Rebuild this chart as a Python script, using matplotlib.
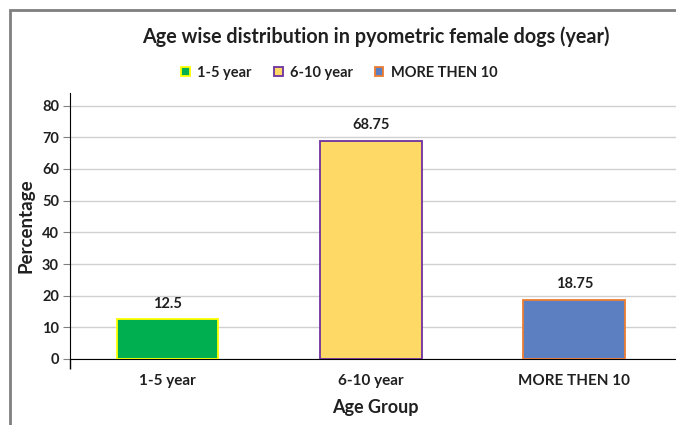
import matplotlib
matplotlib.use('Agg')
import matplotlib.pyplot as plt
from matplotlib.patches import Rectangle

categories = ['1-5 year', '6-10 year', 'MORE THEN 10']
percent = [12.5, 68.75, 18.75]
labels = ['12.5', '68.75', '18.75']
face_colors = ['#00B050', '#FFD966', '#5B7FC1']
edge_colors = ['#FFFF00', '#7030A0', '#ED7D31']
yticks = [0, 10, 20, 30, 40, 50, 60, 70, 80]

plt.rcParams['font.family'] = ['Lato', 'DejaVu Sans']
txt = '#202020'

fig = plt.figure(figsize=(6.76, 4.25), dpi=100)
ax = fig.add_axes([70/676, 66/425, 610/676, 266/425])

x = range(len(categories))
bars = ax.bar(x, percent, width=0.5, color=face_colors,
              edgecolor=edge_colors, linewidth=1.3, zorder=3,
              label=categories)
for b, lab in zip(bars, labels):
    ax.text(b.get_x() + b.get_width()/2, b.get_height() + 2.8, lab,
            ha='center', va='bottom', fontsize=10.5, fontweight='bold',
            color=txt)

ax.set_xlim(-0.48, 2.52)
ax.set_ylim(0, 84)
ax.set_yticks(yticks)
ax.set_xticks(list(x))
ax.set_xticklabels(categories, fontsize=11, fontweight='bold', color=txt)
ax.tick_params(axis='x', length=0, pad=11)
ax.tick_params(axis='y', length=5, color='#808080', labelsize=10.5,
               labelcolor=txt, pad=3)
for t in ax.get_yticklabels():
    t.set_fontweight('bold')
ax.set_xticks([-0.48], minor=True)
ax.tick_params(axis='x', which='minor', length=7, color='black', width=1)
ax.grid(axis='y', color='#D0D0D0', linewidth=1, zorder=0)
for s in ['top', 'right']:
    ax.spines[s].set_visible(False)
ax.spines['left'].set_color('black')
ax.spines['bottom'].set_color('black')

ax.set_ylabel('Percentage', fontsize=13.5, fontweight='bold', color=txt,
              labelpad=5)
ax.set_xlabel('Age Group', fontsize=13, fontweight='bold', color=txt,
              labelpad=8)

fig.text(0.556, 388/425, 'Age wise distribution in pyometric female dogs (year)',
         ha='center', va='center', fontsize=14.2, fontweight='bold', color=txt)

leg = fig.legend(handles=list(bars), labels=categories, loc='center',
                 bbox_to_anchor=(0.502, 352/425), ncol=3, frameon=False,
                 prop={'weight': 'bold', 'size': 10.5}, handlelength=0.6,
                 handleheight=0.6, columnspacing=1.5, handletextpad=0.5)
for t in leg.get_texts():
    t.set_color(txt)

fig.patches.append(Rectangle((10/676, -0.1), 1.2, (415/425) + 0.1,
                             transform=fig.transFigure, fill=False,
                             edgecolor='#7F7F7F', linewidth=2))

fig.savefig('out.png', dpi=100)
